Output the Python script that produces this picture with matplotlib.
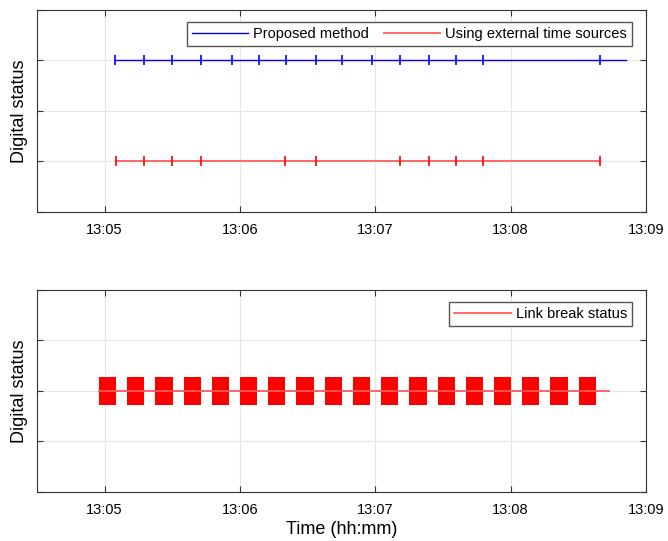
import datetime as dt
import numpy as np
import matplotlib
matplotlib.use('Agg')
import matplotlib.pyplot as plt
import matplotlib.dates as mdates

# event times, seconds after 13:05:00
proposed_marks = [4.7, 17.4, 30.0, 42.7, 56.3, 68.6, 80.4, 93.6, 105.4, 118.7,
                  131.0, 143.8, 155.7, 167.8, 219.4]
proposed_span = [4.7, 231.0]
external_marks = [5.0, 17.6, 29.7, 42.7, 80.1, 93.6, 131.0, 143.8, 155.7, 167.8, 219.4]
external_span = [5.0, 219.4]

# link break pulses: start (s after 13:05:00) and duration (s)
break_starts = [-2.5, 10.0, 22.5, 35.0, 47.5, 60.0, 72.5, 85.0, 97.6, 110.1,
                122.6, 135.1, 147.6, 160.1, 172.6, 185.1, 197.6, 210.1]
break_lengths = [7.6] * 18
break_span = [-2.5, 223.6]

t0 = dt.datetime(2020, 1, 1, 13, 5, 0)

def to_time(secs):
    return [t0 + dt.timedelta(seconds=s) for s in secs]

plt.rcParams['font.family'] = ['Liberation Sans', 'DejaVu Sans']

fig = plt.figure(figsize=(6.68, 5.41), dpi=100)
ax = fig.add_axes([0.0554, 0.608, 0.9117, 0.374])
ax2 = fig.add_axes([0.0554, 0.091, 0.9117, 0.373])

grid_col = '#e6e6e6'
red_line = '#ff5a5a'
xmin = t0 - dt.timedelta(seconds=30)
xmax = t0 + dt.timedelta(seconds=240)
leg_kw = dict(fontsize=10.5, fancybox=False, framealpha=1, edgecolor='#555555',
              handlelength=3.85, handletextpad=0.35, borderpad=0.35, borderaxespad=0)

#Top panel: clock sync events
ax.plot(to_time(proposed_span), [1, 1], color='#0000ff', lw=1, label='Proposed method')
ax.plot(to_time(proposed_marks), [1] * len(proposed_marks), ls='none', marker='|',
        ms=6.5, mew=1.2, color='#0000ff')
ax.plot(to_time(external_span), [0, 0], color=red_line, lw=1.3,
        label='Using external time sources')
ax.plot(to_time(external_marks), [0] * len(external_marks), ls='none', marker='|',
        ms=6.5, mew=1.2, color='#ff0000')
ax.set_ylim(-0.5, 1.5)
ax.set_yticks([-0.5, 0, 0.5, 1, 1.5])
ax.legend(loc='upper right', bbox_to_anchor=(0.977, 0.939), ncol=2,
          columnspacing=1.0, **leg_kw)

#Bottom panel: link break pulses
ax2.plot(to_time(break_span), [0, 0], color=red_line, lw=1.3, label='Link break status')
for s, d in zip(break_starts, break_lengths):
    x0 = mdates.date2num(t0 + dt.timedelta(seconds=s))
    w = d / 86400.
    ax2.bar(x0, 0.28, width=w, bottom=-0.14, align='edge', color='#ff0000', lw=0)
ax2.set_ylim(-1, 1)
ax2.set_yticks([-1, -0.5, 0, 0.5, 1])
ax2.legend(loc='upper right', bbox_to_anchor=(0.977, 0.939), **leg_kw)
ax2.set_xlabel('Time (hh:mm)', fontsize=13, labelpad=3)

for a in (ax, ax2):
    a.set_xlim(xmin, xmax)
    a.xaxis.set_major_locator(mdates.MinuteLocator())
    a.xaxis.set_major_formatter(mdates.DateFormatter('%H:%M'))
    a.set_yticklabels([])
    a.grid(True, color=grid_col, lw=0.8)
    a.set_axisbelow(True)
    a.tick_params(direction='in', length=4, top=True, right=True, labelsize=10.5,
                  color='#333333', pad=8)
    a.set_ylabel('Digital status', fontsize=13)
    a.yaxis.set_label_coords(-0.015, 0.5)
    for sp in a.spines.values():
        sp.set_color('#333333')
        sp.set_linewidth(0.8)

fig.savefig('out.png', dpi=100)
